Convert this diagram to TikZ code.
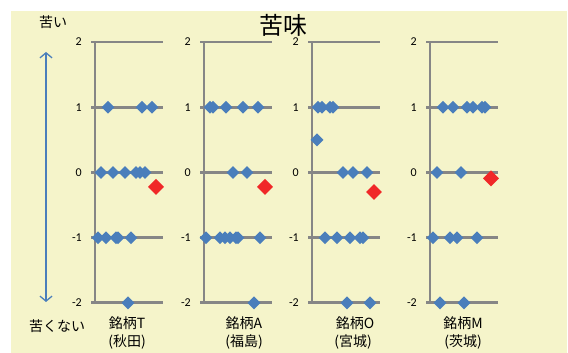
\documentclass[tikz,border=0pt]{standalone}
\usepackage{fontspec}
\setmainfont{Carlito}
\newfontfamily\jpfont{Noto Sans CJK JP}
\usetikzlibrary{shapes.geometric,arrows.meta}
\definecolor{chartbg}{RGB}{245,244,202}
\definecolor{gridgray}{RGB}{134,134,134}
\definecolor{ptblue}{RGB}{74,126,187}
\definecolor{ptred}{RGB}{240,40,40}
\tikzset{
  bluept/.style={diamond,aspect=1,fill=ptblue,inner sep=0pt,minimum size=13pt},
  redpt/.style={diamond,aspect=1,fill=ptred,inner sep=0pt,minimum size=16pt},
  gridline/.style={draw=gridgray,line width=2.8pt},
  ticklabel/.style={anchor=east,inner sep=0pt,font=\fontsize{12}{12}\selectfont},
  jplabel/.style={inner sep=0pt,font=\fontsize{14}{16}\jpfont}
}
\begin{document}
\begin{tikzpicture}[x=1pt,y=1pt]
  \useasboundingbox (0,0) rectangle (568,353);
  \fill[chartbg] (11,0) rectangle (567,342);

  \node[font=\fontsize{24}{24}\jpfont,inner sep=0pt] (title) at (283,328) {苦味};
  \node[jplabel] (bitter) at (53,331) {苦い};
  \node[jplabel] (notbitter) at (57,27) {苦くない};

  \coordinate (atop) at (46,301);
  \coordinate (abot) at (46,51);
  \draw[ptblue,line width=1.3pt,{Straight Barb[length=5pt,width=12pt]}-{Straight Barb[length=5pt,width=12pt]}]
    (abot) -- (atop);

  \node[jplabel] (nameT) at (127,30) {銘柄T};
  \node[jplabel] (prefT) at (127,11) {(秋田)};
  \node[jplabel] (nameA) at (244,30) {銘柄A};
  \node[jplabel] (prefA) at (244,11) {(福島)};
  \node[jplabel] (nameO) at (355,30) {銘柄O};
  \node[jplabel] (prefO) at (353,11) {(宮城)};
  \node[jplabel] (nameM) at (463,30) {銘柄M};
  \node[jplabel] (prefM) at (463,11) {(茨城)};

  \begin{scope}[y=65.2pt,yshift=180.5pt]
    \foreach \ax in {95,204,312,430} {
      \draw[gridline] (\ax,-2) -- (\ax,2);
      \foreach \v in {-2,...,2} {
        \draw[gridline] (\ax-4,\v) -- (\ax+68,\v);
        \node[ticklabel] (t\ax:\v) at (\ax-13,\v) {\v};
      }
    }

    % T
    \foreach \x/\v in {108/1,142/1,152/1,101/0,113/0,125/0,136/0,140/0,145/0,
                      98/-1,106/-1,116/-1,118/-1,131/-1,128/-2}
      \node[bluept] (b\x) at (\x,\v) {};
    \node[redpt] (rT) at (156,-0.22) {};

    % A
    \foreach \x/\v in {210/1,213/1,226/1,243/1,258/1,233/0,247/0,
                      206/-1,220/-1,225/-1,230/-1,236/-1,238/-1,260/-1,254/-2}
      \node[bluept] (b\x) at (\x,\v) {};
    \node[redpt] (rA) at (265,-0.22) {};

    % O
    \foreach \x/\v in {318/1,322/1,330/1,333/1,317/0.5,343/0,353/0,367/0,
                      325/-1,337/-1,350/-1,360/-1,363/-1,347/-2,370/-2}
      \node[bluept] (b\x) at (\x,\v) {};
    \node[redpt] (rO) at (374,-0.3) {};

    % M
    \foreach \x/\v in {443/1,453/1,467/1,473/1,482/1,485/1,437/0,461/0,
                      433/-1,450/-1,457/-1,477/-1,440/-2,464/-2}
      \node[bluept] (b\x) at (\x,\v) {};
    \node[redpt] (rM) at (491,-0.09) {};
  \end{scope}
\end{tikzpicture}
\end{document}
